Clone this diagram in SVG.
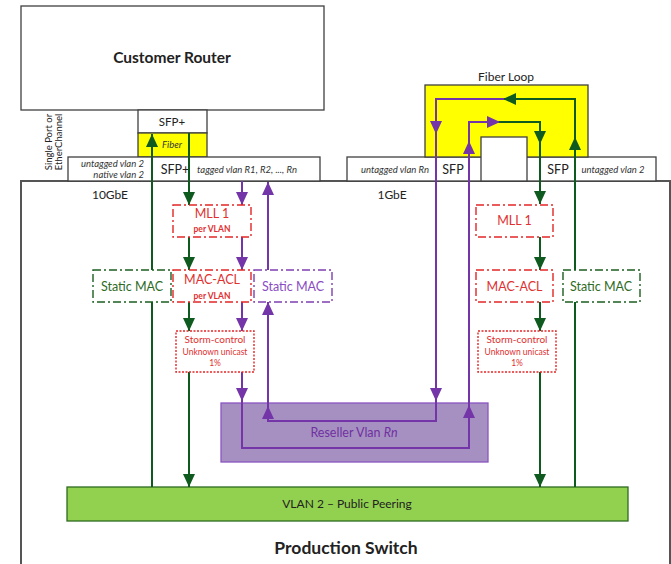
<svg xmlns="http://www.w3.org/2000/svg" width="671" height="564" viewBox="0 0 671 564">
<defs>
<style>
text{font-family:Lato,"Liberation Sans",sans-serif}
.box{fill:#fff;stroke:#404040;stroke-width:1.3}
.sw{fill:#fff;stroke:#555;stroke-width:2}
.yel{fill:#ffff00;stroke:#404040;stroke-width:1.3}
.lbl{fill:#222;text-anchor:middle}
.it{font-style:italic;font-size:9.5px;fill:#333}
.red{fill:#fff;stroke:#e32626;stroke-width:1.4;stroke-dasharray:8 3 2 3}
.redd{fill:#fff;stroke:#e32626;stroke-width:1.4;stroke-dasharray:2 1.5}
.grnb{fill:#fff;stroke:#1b5e20;stroke-width:1.4;stroke-dasharray:8 3 2 3}
.purb{fill:#fff;stroke:#7e3fb0;stroke-width:1.4;stroke-dasharray:8 3 2 3}
.rt{fill:#e03030;text-anchor:middle}
.g{fill:none;stroke:#0f5a1f;stroke-width:2}
.p{fill:none;stroke:#7335a8;stroke-width:2}
</style>
<marker id="ag" markerUnits="userSpaceOnUse" markerWidth="13" markerHeight="12" refX="13" refY="6" orient="auto"><path d="M0,0 L13,6 L0,12 z" fill="#0f5a1f"/></marker>
<marker id="ap" markerUnits="userSpaceOnUse" markerWidth="13" markerHeight="12" refX="13" refY="6" orient="auto"><path d="M0,0 L13,6 L0,12 z" fill="#7335a8"/></marker>
</defs>
<rect width="671" height="564" fill="#fff"/>

<g id="switch">
<rect class="sw" x="21" y="181" width="649" height="420"/>
<text class="lbl" x="346" y="554" font-size="17.5" font-weight="bold" fill="#111">Production Switch</text>
<text class="lbl" x="110" y="199" font-size="12">10GbE</text>
<text class="lbl" x="392" y="199" font-size="12">1GbE</text>
</g>

<g id="router">
<rect class="box" x="21" y="6" width="303" height="104"/>
<text class="lbl" x="172" y="63" font-size="15.5" font-weight="bold" fill="#111">Customer Router</text>
</g>

<g id="router-sfp">
<rect class="box" x="138" y="110" width="69" height="23"/>
<text class="lbl" x="172" y="126" font-size="11.5">SFP+</text>
<rect class="yel" x="138" y="133" width="69" height="24"/>
<text class="lbl it" x="172" y="148">Fiber</text>
</g>

<g id="port-left">
<rect class="box" x="68" y="157" width="252" height="24"/>
<text class="it" x="144" y="167" text-anchor="end">untagged vlan 2</text>
<text class="it" x="144" y="178" text-anchor="end">native vlan 2</text>
<text class="lbl" x="175" y="174" font-size="12.5">SFP+</text>
<text class="it" x="197" y="173">tagged vlan R1, R2, ..., Rn</text>
<text transform="translate(52,142) rotate(-90)" class="lbl" font-size="9.5">Single Port or</text>
<text transform="translate(62,142) rotate(-90)" class="lbl" font-size="9.5">EtherChannel</text>
</g>

<g id="port-right">
<rect class="box" x="347" y="157" width="309" height="24"/>
<rect class="yel" x="425" y="85" width="163" height="72"/>
<rect class="box" x="481" y="137" width="46" height="44"/>
<text class="lbl" x="506" y="81" font-size="12">Fiber Loop</text>
<text class="it" x="395" y="173" text-anchor="middle">untagged vlan Rn</text>
<text class="lbl" x="453" y="174" font-size="12.5">SFP</text>
<text class="lbl" x="558" y="174" font-size="12.5">SFP</text>
<text class="it" x="613" y="173" text-anchor="middle">untagged vlan 2</text>
</g>

<g id="reseller">
<rect x="221" y="403" width="267" height="59" fill="#a690c2" stroke="#8a55c0" stroke-width="1.3"/>
<text x="354" y="437" text-anchor="middle" font-size="12.5" fill="#7030a0">Reseller Vlan <tspan font-style="italic">Rn</tspan></text>
</g>

<g id="vlan2">
<rect x="67" y="487" width="561" height="34" fill="#92d050" stroke="#2e6b1f" stroke-width="1.3"/>
<text class="lbl" x="347" y="508" font-size="12" fill="#2e6b1f">VLAN 2 – Public Peering</text>
</g>

<g id="connectors">
<path class="g" d="M152,487 V134" marker-end="url(#ag)"/>
<path class="g" d="M189,133 V205" marker-end="url(#ag)"/>
<path class="g" d="M189,237 V270" marker-end="url(#ag)"/>
<path class="g" d="M189,302 V331" marker-end="url(#ag)"/>
<path class="g" d="M189,372 V487" marker-end="url(#ag)"/>
<path class="p" d="M242,181 V205" marker-end="url(#ap)"/>
<path class="p" d="M242,237 V270" marker-end="url(#ap)"/>
<path class="p" d="M242,302 V331" marker-end="url(#ap)"/>
<path class="p" d="M242,372 V401" marker-end="url(#ap)"/>
<path class="p" d="M242,401 V448 H469 V405" marker-end="url(#ap)"/>
<path class="p" d="M469,405 V141" marker-end="url(#ap)"/>
<path class="p" d="M469,141 V122 H500" marker-end="url(#ap)"/>
<path class="g" d="M499,122 H540 V144" marker-end="url(#ag)"/>
<path class="g" d="M540,144 V204" marker-end="url(#ag)"/>
<path class="g" d="M540,237 V270" marker-end="url(#ag)"/>
<path class="g" d="M540,302 V331" marker-end="url(#ag)"/>
<path class="g" d="M540,372 V487" marker-end="url(#ag)"/>
<path class="g" d="M575,487 V137" marker-end="url(#ag)"/>
<path class="g" d="M575,138 V99 H503" marker-end="url(#ag)"/>
<path class="p" d="M504,99 H436 V134" marker-end="url(#ap)"/>
<path class="p" d="M436,134 V401" marker-end="url(#ap)"/>
<path class="p" d="M436,401 V421 H268 V406" marker-end="url(#ap)"/>
<path class="p" d="M268,406 V302" marker-end="url(#ap)"/>
<path class="p" d="M268,270 V182" marker-end="url(#ap)"/>
</g>

<g id="mll-left">
<rect class="red" x="173" y="205" width="78" height="32"/>
<text class="rt" x="212" y="218" font-size="12.5">MLL 1</text>
<text class="rt" x="212" y="232" font-size="8.5" font-weight="bold" fill="#c00000">per VLAN</text>
</g>
<g id="acl-left">
<rect class="red" x="173" y="270" width="78" height="32"/>
<text class="rt" x="212" y="284" font-size="12.5">MAC-ACL</text>
<text class="rt" x="212" y="299" font-size="8.5" font-weight="bold" fill="#c00000">per VLAN</text>
</g>
<g id="static-left-green">
<rect class="grnb" x="93" y="270" width="78" height="32"/>
<text x="132" y="291" text-anchor="middle" font-size="12.5" fill="#2e6b1f">Static MAC</text>
</g>
<g id="static-left-purple">
<rect class="purb" x="254" y="270" width="78" height="32"/>
<text x="293" y="291" text-anchor="middle" font-size="12.5" fill="#8a4cc4">Static MAC</text>
</g>
<g id="storm-left">
<rect class="redd" x="176" y="331" width="78" height="41"/>
<text class="rt" x="215" y="343" font-size="10">Storm-control</text>
<text class="rt" x="215" y="355" font-size="8.5">Unknown unicast</text>
<text class="rt" x="215" y="366" font-size="8.5">1%</text>
</g>

<g id="mll-right">
<rect class="red" x="476" y="205" width="77" height="32"/>
<text class="rt" x="514.5" y="225" font-size="12.5">MLL 1</text>
</g>
<g id="acl-right">
<rect class="red" x="476" y="270" width="77" height="32"/>
<text class="rt" x="514.5" y="291" font-size="12.5">MAC-ACL</text>
</g>
<g id="static-right">
<rect class="grnb" x="563" y="270" width="77" height="32"/>
<text x="601" y="291" text-anchor="middle" font-size="12.5" fill="#2e6b1f">Static MAC</text>
</g>
<g id="storm-right">
<rect class="redd" x="478" y="331" width="78" height="41"/>
<text class="rt" x="517" y="343" font-size="10">Storm-control</text>
<text class="rt" x="517" y="355" font-size="8.5">Unknown unicast</text>
<text class="rt" x="517" y="366" font-size="8.5">1%</text>
</g>
</svg>
